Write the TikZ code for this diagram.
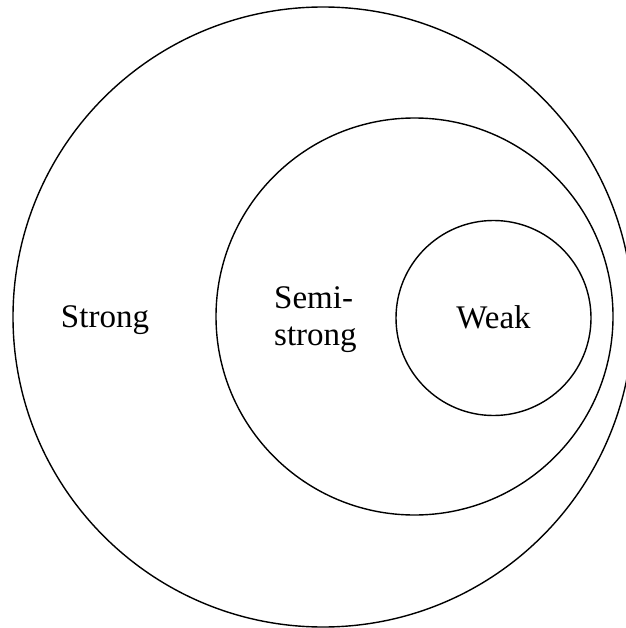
\documentclass[tikz,border=0pt]{standalone}
\usepackage{fontspec}
\setmainfont{Liberation Serif}
\begin{document}
\begin{tikzpicture}[x=1bp,y=-1bp,
  ring/.style={draw=black,line width=1.4bp,circle,inner sep=0pt},
  lbl/.style={inner sep=0pt,font=\fontsize{33bp}{37bp}\selectfont}]
\useasboundingbox (0,0) rectangle (626,628);
\node[ring,minimum size=620bp] (outer) at (323,317) {};
\node[ring,minimum size=397bp] (middle) at (414.5,316.5) {};
\node[ring,minimum size=195bp] (inner) at (493.5,318) {};
\node[lbl,anchor=base] (strong) at (105,327) {Strong};
\node[lbl,anchor=base west,align=left] (semi) at (274,345) {Semi-\\strong};
\node[lbl,anchor=base] (weak) at (493.5,328) {Weak};
\end{tikzpicture}
\end{document}
